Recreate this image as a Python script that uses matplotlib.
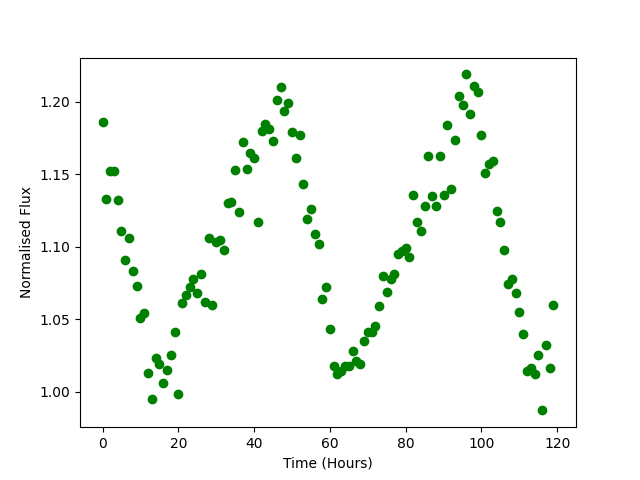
# Normalised flux light curve, hourly samples.

import matplotlib
matplotlib.use("Agg")
import matplotlib.pyplot as plt
import numpy as np

OUTPUT_PATH = "out.png"

hours = np.arange(120)
flux = [
    1.186, 1.133, 1.152, 1.152, 1.132, 1.111, 1.091, 1.106, 1.083, 1.073,
    1.051, 1.054, 1.013, 0.995, 1.023, 1.019, 1.006, 1.015, 1.025, 1.041,
    0.998, 1.061, 1.067, 1.072, 1.078, 1.068, 1.081, 1.062, 1.106, 1.060,
    1.103, 1.105, 1.098, 1.130, 1.131, 1.153, 1.124, 1.172, 1.154, 1.165,
    1.161, 1.117, 1.180, 1.185, 1.181, 1.173, 1.201, 1.210, 1.194, 1.199,
    1.179, 1.161, 1.177, 1.143, 1.119, 1.126, 1.109, 1.102, 1.064, 1.072,
    1.043, 1.018, 1.012, 1.014, 1.018, 1.018, 1.028, 1.021, 1.019, 1.035,
    1.041, 1.041, 1.045, 1.059, 1.080, 1.069, 1.078, 1.081, 1.095, 1.097,
    1.099, 1.093, 1.136, 1.117, 1.111, 1.128, 1.163, 1.135, 1.128, 1.163,
    1.136, 1.184, 1.140, 1.174, 1.204, 1.198, 1.219, 1.192, 1.211, 1.207,
    1.177, 1.151, 1.157, 1.159, 1.125, 1.117, 1.098, 1.074, 1.078, 1.068,
    1.055, 1.040, 1.014, 1.016, 1.012, 1.025, 0.987, 1.032, 1.016, 1.060,
]


def main() -> None:
    plt.figure(figsize=(6.4, 4.8), dpi=100)
    plt.plot(hours, flux, "go")
    plt.xlabel("Time (Hours)")
    plt.ylabel("Normalised Flux")
    plt.savefig(OUTPUT_PATH, dpi=100)
    plt.close()


if __name__ == "__main__":
    main()
